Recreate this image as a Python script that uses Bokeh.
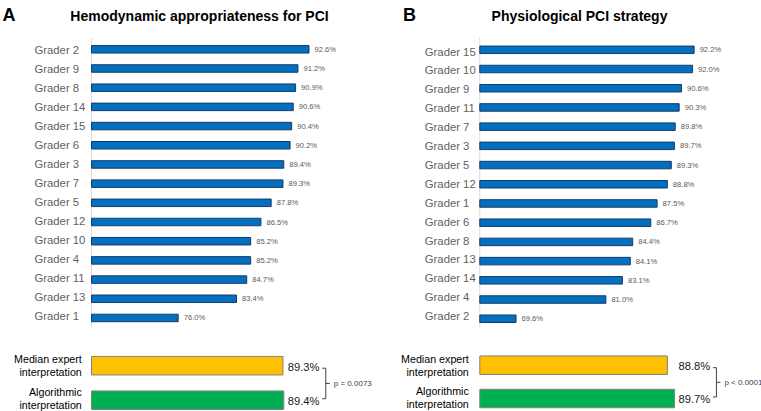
from bokeh.plotting import figure
from bokeh.layouts import row
from bokeh.models import Range1d
from bokeh.core.properties import value
from bokeh.embed import file_html
from bokeh.resources import INLINE

# ---------------- data ----------------
A_letter = "A"
A_title = "Hemodynamic appropriateness for PCI"
A_graders = ["Grader 2", "Grader 9", "Grader 8", "Grader 14", "Grader 15", "Grader 6",
             "Grader 3", "Grader 7", "Grader 5", "Grader 12", "Grader 10", "Grader 4",
             "Grader 11", "Grader 13", "Grader 1"]
A_values = [92.6, 91.2, 90.9, 90.6, 90.4, 90.2, 89.4, 89.3, 87.8, 86.5, 85.2, 85.2, 84.7, 83.4, 76.0]
A_summary = [89.3, 89.4]
A_p = "p = 0.0073"

B_letter = "B"
B_title = "Physiological PCI strategy"
B_graders = ["Grader 15", "Grader 10", "Grader 9", "Grader 11", "Grader 7", "Grader 3",
             "Grader 5", "Grader 12", "Grader 1", "Grader 6", "Grader 8", "Grader 13",
             "Grader 14", "Grader 4", "Grader 2"]
B_values = [92.2, 92.0, 90.6, 90.3, 89.8, 89.7, 89.3, 88.8, 87.5, 86.7, 84.4, 84.1, 83.1, 81.0, 69.6]
B_summary = [88.8, 89.7]
B_p = "p < 0.0001"

summary_labels = ["Median expert\ninterpretation", "Algorithmic\ninterpretation"]
summary_colors = ["#FFC000", "#00B050"]

X_BASE = 65.0          # value at which the bars start
SCALE = 7.88           # pixels per percentage point
H = 411
FONT = "Liberation Sans"


def panel(letter, title, graders, values, summary, ptext, width, cfg):
    ax = cfg["axis_px"]

    def px2x(px):
        return X_BASE + (px - ax) / SCALE

    p = figure(width=width, height=H, output_backend="svg", toolbar_location=None,
               x_range=Range1d(px2x(0), px2x(width)), y_range=Range1d(H, 0),
               x_axis_location=None, y_axis_location=None,
               min_border=0, min_border_left=0, min_border_right=0,
               min_border_top=0, min_border_bottom=0)
    p.grid.visible = False
    p.outline_line_color = None

    # letter + title
    p.text(x=[px2x(cfg["letter_px"])], y=[14.5], text=[letter], text_align="left",
           text_baseline="middle", text_font=value(FONT), text_font_style="bold",
           text_font_size="18px", text_color="#000000")
    p.text(x=[px2x(199)], y=[15], text=[title], text_align="center",
           text_baseline="middle", text_font=value(FONT), text_font_style="bold",
           text_font_size="14px", text_color="#000000")

    n = len(graders)
    bar_y = [cfg["bar0"] + i * cfg["bar_step"] for i in range(n)]
    lab_y = [cfg["lab0"] + i * cfg["lab_step"] for i in range(n)]

    # axis line
    p.segment(x0=[X_BASE], y0=[cfg["axis_top"]], x1=[X_BASE], y1=[cfg["axis_bot"]],
              line_color="#d9d9d9", line_width=1)

    p.hbar(y=bar_y, left=X_BASE, right=values, height=7.5,
           fill_color="#0070C0", line_color="#1F3864", line_width=1)

    p.text(x=[px2x(cfg["label_px"])] * n, y=lab_y, text=graders, text_align="left",
           text_baseline="middle", text_font=value(FONT), text_font_size="11.3px",
           text_color="#5f5f5f")
    p.text(x=[v + 5.5 / SCALE for v in values], y=bar_y,
           text=[f"{v:.1f}%" for v in values], text_align="left",
           text_baseline="middle", text_font=value(FONT), text_font_size="7.6px",
           text_color="#595959")

    # summary bars
    sy = cfg["sum_y"]
    p.hbar(y=sy, left=X_BASE, right=summary, height=18.5,
           fill_color=summary_colors, line_color="#808080", line_width=1)
    lx, ly = [], []
    lt = []
    for j, (yc, lab) in enumerate(zip(sy, summary_labels)):
        lines = lab.split("\n")
        top = yc - 6.5 if j == 0 else yc - 8.0
        for k, t in enumerate(lines):
            lt.append(t)
            lx.append(px2x(cfg["sum_label_px"]))
            ly.append(top + 13.0 * k)
    p.text(x=lx, y=ly, text=lt, text_align="right", text_baseline="middle",
           text_font=value(FONT), text_font_size="10.7px", text_color="#000000")

    vx = max(summary) + 4.0 / SCALE
    p.text(x=[vx, vx], y=[sy[0] + 1, sy[1] + 0.5],
           text=[f"{v:.1f}%" for v in summary], text_align="left",
           text_baseline="middle", text_font=value(FONT), text_font_size="11.2px",
           text_color="#1a1a1a")

    # bracket
    bx = vx + 38.0 / SCALE
    y1, y2 = sy[0] + 2.5, sy[1] - 1.5
    ym = (y1 + y2) / 2
    p.multi_line(xs=[[bx - 3.5 / SCALE, bx], [bx, bx], [bx - 3.5 / SCALE, bx], [bx, bx + 4 / SCALE]],
                 ys=[[y1, y1], [y1, y2], [y2, y2], [ym, ym]],
                 line_color="#404040", line_width=1)
    p.text(x=[bx + 8 / SCALE], y=[ym], text=[ptext], text_align="left",
           text_baseline="middle", text_font=value(FONT), text_font_size="8px",
           text_color="#404040")
    return p


cfgA = dict(axis_px=91.0, letter_px=2.0, label_px=34.0, bar0=48.8, bar_step=19.19,
            lab0=49.7, lab_step=18.99, axis_top=38, axis_bot=327,
            sum_y=[365.2, 399.7], sum_label_px=81.3)
cfgB = dict(axis_px=99.3, letter_px=22.5, label_px=44.3, bar0=49.3, bar_step=19.21,
            lab0=51.0, lab_step=18.9, axis_top=37, axis_bot=327,
            sum_y=[364.7, 398.0], sum_label_px=88.3)

pA = panel(A_letter, A_title, A_graders, A_values, A_summary, A_p, 380, cfgA)
pB = panel(B_letter, B_title, B_graders, B_values, B_summary, B_p, 381, cfgB)

layout = row(pA, pB)

open("out.html", "w").write(file_html(layout, INLINE))
